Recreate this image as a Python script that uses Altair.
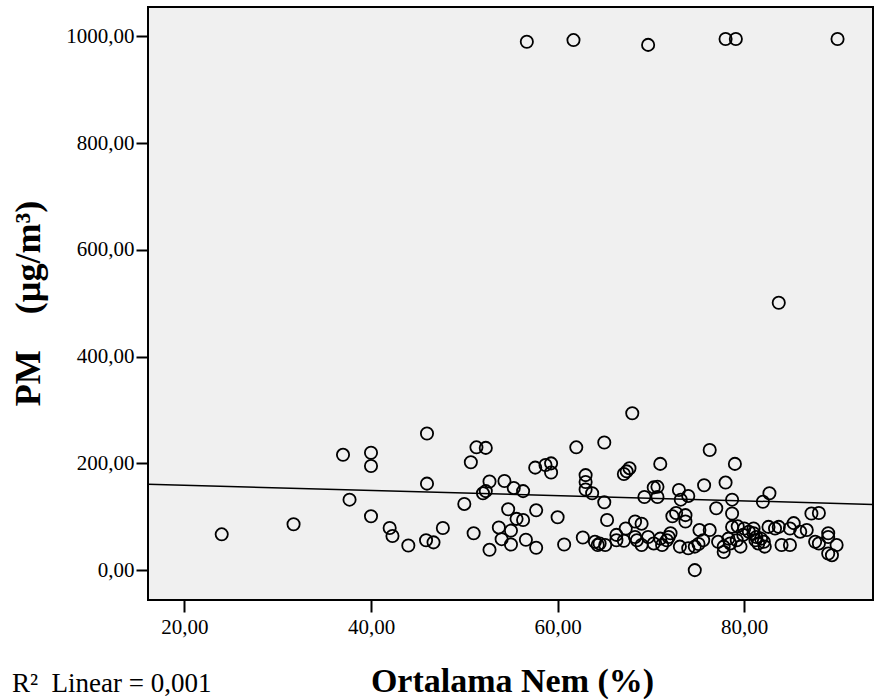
import altair as alt
import pandas as pd

# Ortalama Nem (%) values
hum = [56.7, 61.7, 69.7, 78.0, 79.1, 90.0, 83.7,
       24.0, 31.7, 37.0, 37.7, 40.0, 40.0, 40.0, 42.0, 42.3, 44.0,
       46.0, 46.0, 45.9, 46.7, 47.7, 50.0, 50.7, 51.3, 52.3, 51.0,
       52.7, 52.0, 52.3, 53.7, 54.0, 52.7, 54.3, 55.3, 56.3, 54.7,
       55.6, 56.3, 55.0, 55.0, 56.6, 57.6, 58.7, 59.3, 59.3, 62.0,
       65.0, 68.0, 63.0, 63.0, 63.0, 63.7, 65.0, 67.1, 67.4, 67.7,
       57.7, 60.0, 57.7, 60.7, 62.7, 64.0, 64.3, 64.5, 65.1, 65.3,
       66.3, 66.3, 67.1, 67.3, 68.3, 68.3, 68.5, 69.0,
       76.3, 71.0, 79.0, 75.7, 78.0, 70.3, 70.7, 69.3, 70.7, 73.0,
       73.2, 74.0, 78.7, 77.0, 78.7, 72.3, 72.7, 73.7, 73.7, 75.2,
       76.3, 78.7, 79.3, 80.0,
       69.0, 69.7, 70.3, 71.0, 71.2, 71.7, 71.9, 72.1,
       73.1, 74.0, 74.7, 75.1, 75.6, 74.7,
       77.2, 77.8, 77.8, 78.5, 78.3, 79.2, 79.6, 79.9, 80.5,
       82.7, 82.0, 87.2, 88.0,
       81.0, 81.0, 81.2, 81.5, 82.1, 82.2, 82.6, 83.3, 83.7, 84.0,
       84.9, 84.9, 85.3, 86.0, 86.7, 87.6, 88.0, 89.0, 89.0, 89.0,
       89.4, 89.9,
       81.3, 81.8]

# PM (µg/m³) values
pm = [990, 993, 984, 995, 995, 995, 501,
      67, 86, 216, 132, 220, 195, 101, 79, 64, 46,
      256, 162, 56, 52, 79, 124, 202, 230, 229, 69,
      166, 144, 148, 80, 58, 38, 167, 154, 148, 114,
      96, 94, 74, 48, 57, 192, 197, 200, 183, 230,
      239, 294, 178, 165, 151, 144, 127, 180, 185, 191,
      112, 99, 42, 48, 61, 53, 47, 50, 47, 94,
      66, 56, 55, 78, 91, 62, 56, 87,
      225, 199, 199, 159, 164, 155, 156, 137, 137, 150,
      132, 139, 132, 116, 106, 101, 107, 103, 91, 75,
      75, 81, 82, 78,
      47, 62, 50, 59, 47, 56, 62, 69,
      44, 41, 44, 49, 56, 0,
      53, 44, 34, 50, 59, 56, 44, 66, 72,
      144, 128, 106, 107,
      78, 69, 56, 50, 53, 44, 81, 78, 81, 47,
      47, 78, 88, 72, 75, 53, 50, 69, 62, 31,
      28, 47,
      62, 59]

# Fit line (R2 Linear = 0,001)
fit_x = [16.1, 93.8]
fit_y = [161, 123]

x_ticks = [20, 40, 60, 80]
y_ticks = [0, 200, 400, 600, 800, 1000]
x_domain = [16.1, 93.8]
y_domain = [-56, 1055]

pts = pd.DataFrame({"hum": hum, "pm": pm})
fit = pd.DataFrame({"hum": fit_x, "pm": fit_y})
note = pd.DataFrame({"t": ["R\u00b2\u00a0 Linear = 0,001"]})

SERIF = "Liberation Serif"
lab = "replace(format(datum.value, '.2f'), '.', ',')"

x_enc = alt.X("hum:Q", scale=alt.Scale(domain=x_domain, nice=False, zero=False),
              axis=alt.Axis(values=x_ticks, labelExpr=lab, title="Ortalama Nem (%)",
                            titleFont=SERIF, titleFontSize=34, titleFontWeight="bold",
                            titleColor="black", titleX=364, titleY=91,
                            titleAlign="center", titleBaseline="alphabetic",
                            labelPadding=4))
y_enc = alt.Y("pm:Q", scale=alt.Scale(domain=y_domain, nice=False, zero=False),
              axis=alt.Axis(values=y_ticks, labelExpr=lab,
                            title="PM\u00a0\u00a0\u00a0\u00a0(\u00b5g/m\u00b3)",
                            titleFont=SERIF, titleFontSize=36, titleFontWeight="bold",
                            titleColor="black", titleX=-120, titleY=296,
                            titleAngle=270, titleAlign="center", titleBaseline="middle",
                            labelPadding=2))

points = alt.Chart(pts).mark_point(shape="circle", filled=False, color="black",
                                   size=150, strokeWidth=1.8, opacity=1).encode(x=x_enc, y=y_enc)

line = alt.Chart(fit).mark_line(color="black", strokeWidth=1.5, clip=True).encode(
    x=alt.X("hum:Q"), y=alt.Y("pm:Q"))

txt = alt.Chart(note).mark_text(align="left", baseline="alphabetic", font=SERIF,
                                fontSize=27, color="black").encode(
    x=alt.value(-136), y=alt.value(685), text="t:N")

chart = alt.layer(points, line, txt).properties(
    width=725, height=593,
    padding={"left": 148, "top": 7, "right": 1, "bottom": 99},
    autosize=alt.AutoSizeParams(type="none"),
    background="white",
).configure_view(
    stroke="black", strokeWidth=2, fill="#f0f0f0"
).configure_axis(
    domain=False, grid=False, ticks=True, tickColor="black", tickWidth=2, tickSize=12,
    labelFont=SERIF, labelFontSize=21, labelColor="black"
)

chart.save("out.html", embed_options={"renderer": "svg", "actions": False})
